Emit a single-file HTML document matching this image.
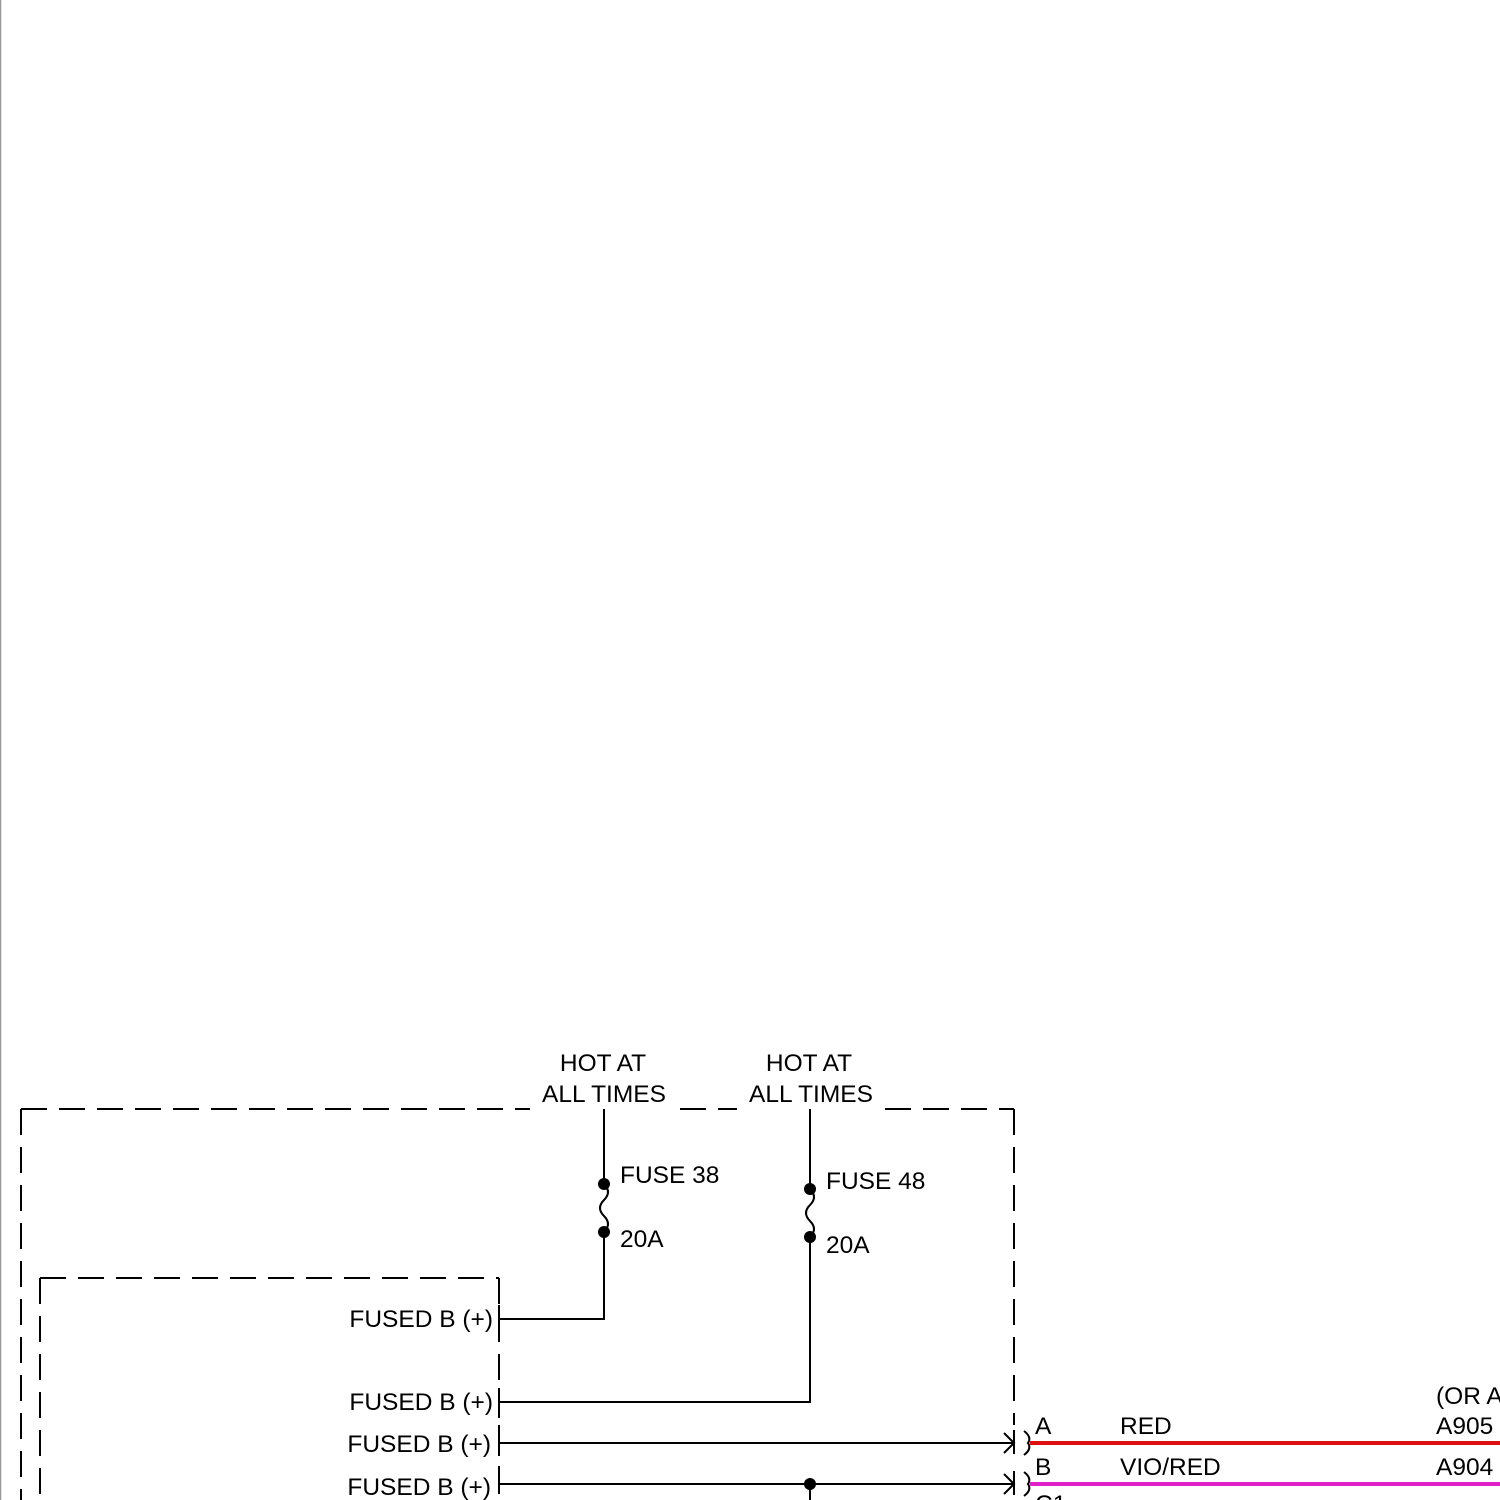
<!DOCTYPE html>
<html><head><style>body{margin:0;background:#fff}svg{display:block}</style></head><body>
<svg width="1500" height="1500" viewBox="0 0 1500 1500" xmlns="http://www.w3.org/2000/svg" font-family="Liberation Sans, Arial, sans-serif" font-size="24.5" fill="#000">
<rect width="1500" height="1500" fill="#fff"/>
<line x1="0.5" y1="0" x2="0.5" y2="1500" stroke="#999" stroke-width="1.5"/>
<g stroke="#000" stroke-width="2" fill="none" stroke-dasharray="26,12">
<line x1="21" y1="1109" x2="530" y2="1109"/>
<line x1="680" y1="1109" x2="737" y2="1109"/>
<line x1="885" y1="1109" x2="1014" y2="1109"/>
<line x1="21" y1="1109" x2="21" y2="1500"/>
<line x1="1014" y1="1109" x2="1014" y2="1425"/>
<line x1="40" y1="1278" x2="499" y2="1278"/>
<line x1="40" y1="1278" x2="40" y2="1500"/>
<line x1="499" y1="1278" x2="499" y2="1500"/>
</g>
<g stroke="#000" stroke-width="2" fill="none">
<path d="M604 1109V1184q8 8 0 16t0 16 0 16V1319H499"/>
<path d="M810 1109V1189q8 8 0 16t0 16 0 16V1402H499"/>
<line x1="499" y1="1443" x2="1014" y2="1443"/>
<line x1="499" y1="1484" x2="1014" y2="1484"/>
<line x1="810" y1="1484" x2="810" y2="1500"/>
<line x1="499" y1="1305" x2="499" y2="1332"/>
<line x1="499" y1="1388" x2="499" y2="1415"/>
<line x1="499" y1="1425" x2="499" y2="1443"/>
<line x1="499" y1="1466" x2="499" y2="1484"/>
<path d="M1004 1433l10 10-10 10M1014 1430v24"/>
<path d="M1004 1474l10 10-10 10M1014 1471v24"/>
<path d="M1024 1431q8 6 4 12q4 6-4 12"/>
<path d="M1024 1472q8 6 4 12q4 6-4 12"/>
</g>
<circle cx="604" cy="1184" r="6"/><circle cx="604" cy="1232" r="6"/>
<circle cx="810" cy="1189" r="6"/><circle cx="810" cy="1237" r="6"/>
<circle cx="810" cy="1484" r="6"/>
<line x1="1030" y1="1443" x2="1500" y2="1443" stroke="#e01010" stroke-width="4"/>
<line x1="1030" y1="1484" x2="1500" y2="1484" stroke="#e020c8" stroke-width="4"/>
<g>
<text x="603" y="1071" text-anchor="middle">HOT AT</text>
<text x="604" y="1102" text-anchor="middle">ALL TIMES</text>
<text x="809" y="1071" text-anchor="middle">HOT AT</text>
<text x="811" y="1102" text-anchor="middle">ALL TIMES</text>
<text x="620" y="1183">FUSE 38</text>
<text x="620" y="1247">20A</text>
<text x="826" y="1189">FUSE 48</text>
<text x="826" y="1253">20A</text>
<text x="493" y="1327" text-anchor="end">FUSED B (+)</text>
<text x="493" y="1410" text-anchor="end">FUSED B (+)</text>
<text x="491" y="1452" text-anchor="end">FUSED B (+)</text>
<text x="491" y="1495" text-anchor="end">FUSED B (+)</text>
<text x="1035" y="1434">A</text>
<text x="1035" y="1475">B</text>
<text x="1035" y="1512">C1</text>
<text x="1120" y="1434">RED</text>
<text x="1120" y="1475">VIO/RED</text>
<text x="1436" y="1404">(OR A</text>
<text x="1436" y="1434">A905</text>
<text x="1436" y="1475">A904</text>
</g>
</svg>
</body></html>
